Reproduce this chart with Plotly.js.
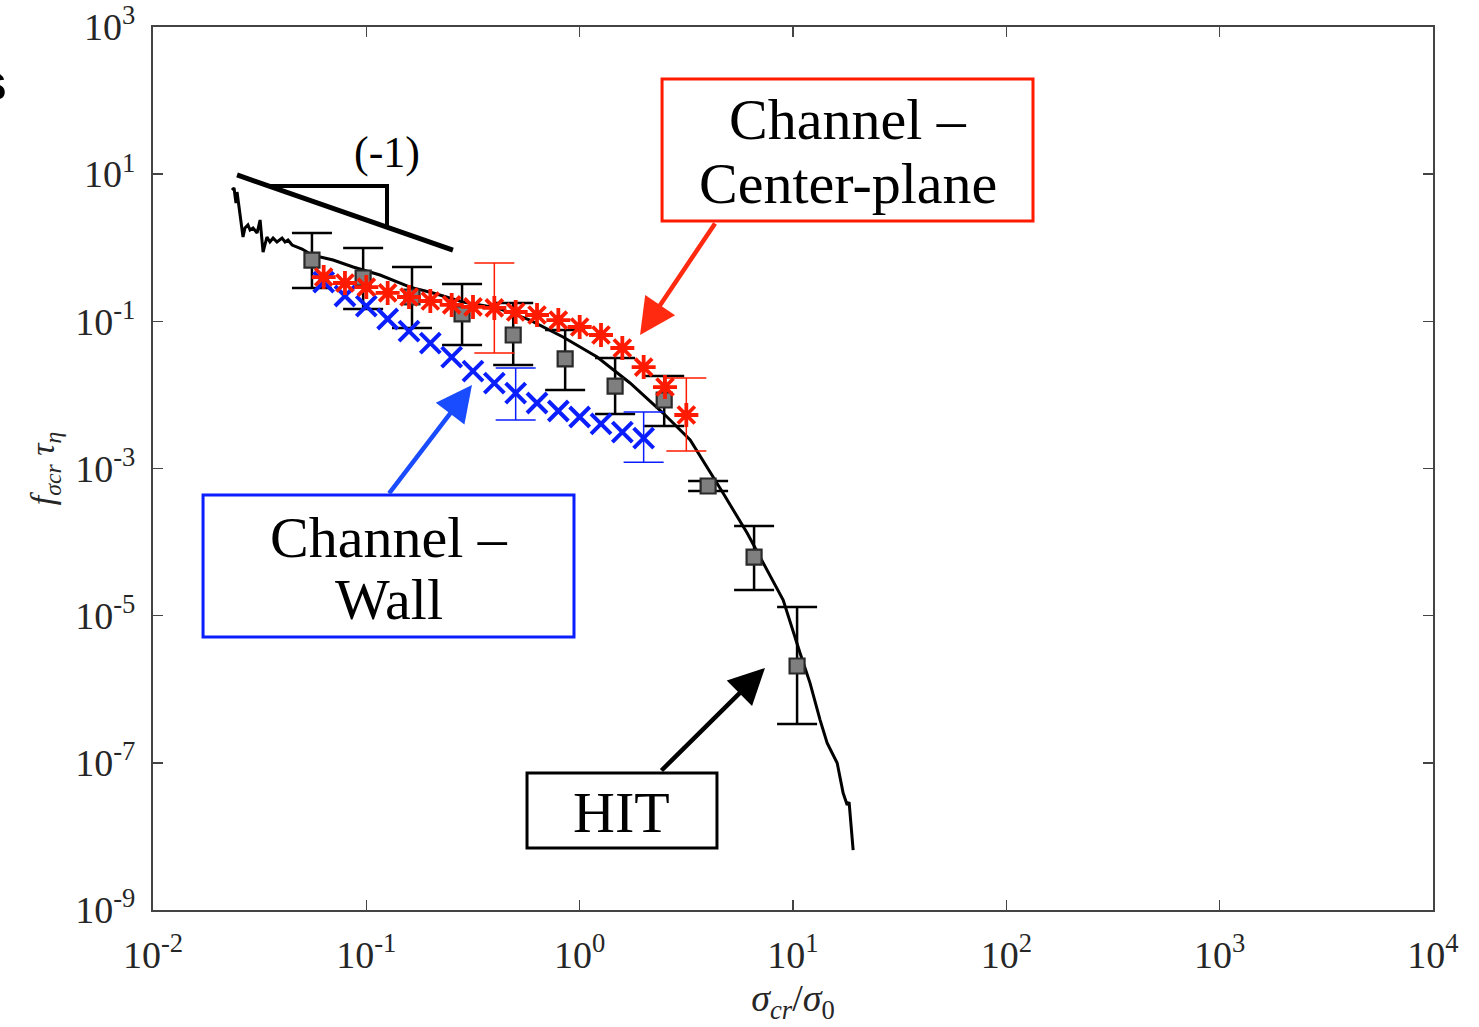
<!DOCTYPE html>
<html>
<head>
<meta charset="utf-8">
<script src="https://cdn.plot.ly/plotly-3.0.1.min.js"></script>
<style>html,body{margin:0;padding:0;background:#fff;}#plot{width:1479px;height:1027px;}</style>
</head>
<body>
<div id="plot"></div>
<script>
// ---------- data ----------
// HIT (black solid line)
var hitLineX = [0.02344,0.02399,0.02421,0.02449,0.02477,0.02559,0.02642,0.02698,0.02786,0.02851,0.02944,0.03076,0.03177,0.03281,0.03420,0.03532,0.03656,0.03811,0.04027,0.04159,0.04295,0.04487,0.04732,0.05000,0.05272,0.05559,0.06982,0.08670,0.1159,0.1603,0.2056,0.2838,0.4102,0.5848,0.8356,1.208,1.722,2.460,3.296,3.954,4.699,6.095,7.244,8.995,10.79,12.02,13.40,14.45,16.11,17.18,17.95,18.32,19.14];
var hitLineY = [6.095,6.486,5.212,4.055,5.715,2.786,1.400,1.854,2.037,1.742,1.854,1.585,2.382,0.875,1.400,1.197,1.355,1.197,1.355,1.197,1.274,1.089,1.023,0.962,0.875,0.796,0.681,0.547,0.426,0.292,0.243,0.183,0.152,0.104,0.0612,0.0327,0.01452,5.675e-3,2.438e-3,1.047e-3,4.645e-4,1.327e-4,5.19e-5,1.629e-5,3.105e-6,1.213e-6,3.81e-7,1.858e-7,9.93e-8,3.88e-8,2.67e-8,2.93e-8,6.53e-9];

// HIT binned points (grey squares) with error bars
var hitX    = [0.0556,0.0966,0.1637,0.281,0.488,0.855,1.466,2.49,4.0,6.57,10.45];
var hitY    = [0.681,0.388,0.214,0.126,0.0652,0.0308,0.0132,0.00853,5.78e-4,6.26e-5,2.07e-6];
var hitHigh = [1.585,0.991,0.547,0.321,0.177,0.0762,0.0317,0.0181,6.76e-4,1.65e-4,1.31e-5];
var hitLow  = [0.284,0.147,0.0811,0.0477,0.0255,0.01167,0.0055,0.00378,4.94e-4,2.23e-5,3.37e-7];

// Channel - Center-plane (red asterisks)
var centerX = [0.0631,0.0794,0.1,0.1259,0.1585,0.1995,0.2512,0.3162,0.3981,0.5012,0.631,0.7943,1.0,1.259,1.585,1.995,2.512,3.162];
var centerY = [0.400,0.332,0.292,0.243,0.214,0.189,0.167,0.157,0.152,0.134,0.122,0.104,0.0837,0.0652,0.0434,0.0239,0.0128,0.00533];
var centerErrIdx  = [8, 17];
var centerErrHigh = [0.621, 0.0170];
var centerErrLow  = [0.0371, 0.00173];

// Channel - Wall (blue crosses)
var wallX = [0.0631,0.0794,0.1,0.1259,0.1585,0.1995,0.2512,0.3162,0.3981,0.5012,0.631,0.7943,1.0,1.259,1.585,1.995];
var wallY = [0.342,0.221,0.161,0.1076,0.0738,0.0507,0.0327,0.0211,0.0145,0.0106,0.00776,0.00604,0.00501,0.00403,0.00313,0.00259];
var wallErrIdx  = [9, 15];
var wallErrHigh = [0.0232, 0.00586];
var wallErrLow  = [0.00456, 0.00122];

// slope (-1) guide
var slopeX = [0.02477, 0.2547];
var slopeY = [9.75, 0.931];
var triX = [0.0346, 0.1250, 0.1250];
var triY = [6.90, 6.90, 1.914];

// ticks
var xTickVals = [1e-2,1e-1,1e0,1e1,1e2,1e3,1e4];
var xTickText = ['10<sup>-2</sup>','10<sup>-1</sup>','10<sup>0</sup>','10<sup>1</sup>','10<sup>2</sup>','10<sup>3</sup>','10<sup>4</sup>'];
var yTickVals = [1e-9,1e-7,1e-5,1e-3,1e-1,1e1,1e3];
var yTickText = ['10<sup>-9</sup>','10<sup>-7</sup>','10<sup>-5</sup>','10<sup>-3</sup>','10<sup>-1</sup>','10<sup>1</sup>','10<sup>3</sup>'];

// ---------- build ----------
function pick(arr, idx){ return idx.map(function(i){ return arr[i]; }); }
function diff(a, b){ return a.map(function(v,i){ return v - b[i]; }); }

var cEX = pick(centerX, centerErrIdx), cEY = pick(centerY, centerErrIdx);
var wEX = pick(wallX, wallErrIdx), wEY = pick(wallY, wallErrIdx);

var serif = 'Liberation Serif, Times New Roman, serif';
var RED = '#ff1a00', BLUE = '#0a1eff';

var traces = [
  {x: slopeX, y: slopeY, mode:'lines', line:{color:'#000', width:5}, hoverinfo:'skip'},
  {x: triX, y: triY, mode:'lines', line:{color:'#000', width:4}, hoverinfo:'skip'},
  {x: hitLineX, y: hitLineY, mode:'lines', line:{color:'#000', width:3}},
  {x: hitX, y: hitY, mode:'markers',
   marker:{symbol:'square', size:15, color:'#7f7f7f', line:{color:'#2a2a2a', width:2.2}},
   error_y:{type:'data', symmetric:false, array: diff(hitHigh, hitY), arrayminus: diff(hitY, hitLow),
            color:'#000', thickness:2.5, width:20}},
  {x: wallX, y: wallY, mode:'markers',
   marker:{symbol:'x-thin-open', size:20, color:BLUE, line:{color:BLUE, width:4}}},
  {x: wEX, y: wEY, mode:'markers', marker:{size:1, opacity:0},
   error_y:{type:'data', symmetric:false, array: diff(wallErrHigh, wEY), arrayminus: diff(wEY, wallErrLow),
            color:BLUE, thickness:1.5, width:20}},
  {x: centerX, y: centerY, mode:'markers',
   marker:{symbol:'asterisk-open', size:20, color:RED, line:{color:RED, width:3.8}}},
  {x: cEX, y: cEY, mode:'markers', marker:{size:1, opacity:0},
   error_y:{type:'data', symmetric:false, array: diff(centerErrHigh, cEY), arrayminus: diff(cEY, centerErrLow),
            color:RED, thickness:1.5, width:20}}
];

var boxFont = {family: serif, size: 58, color:'#000'};
function label(x, y, t){
  return {xref:'paper', yref:'paper', x:x, y:y, xanchor:'center', yanchor:'middle',
          text:t, showarrow:false, font:boxFont};
}
function box(x0, x1, y0, y1, c){
  return {type:'rect', xref:'paper', yref:'paper', x0:x0, x1:x1, y0:y0, y1:y1,
          line:{color:c, width:3}, fillcolor:'rgba(255,255,255,0)', layer:'above'};
}

var layout = {
  width:1479, height:1027,
  margin:{l:153, r:46, t:27, b:117, pad:0},
  paper_bgcolor:'#fff', plot_bgcolor:'#fff',
  showlegend:false,
  font:{family: serif, color:'#262626'},
  xaxis:{type:'log', range:[-2,4], tickvals:xTickVals, ticktext:xTickText,
         ticks:'inside', ticklen:10, tickwidth:1.5, tickcolor:'#444',
         showline:true, linecolor:'#444', linewidth:2, mirror:'allticks',
         showgrid:false, zeroline:false, ticklabelstandoff:10,
         tickfont:{family: serif, size:38, color:'#262626'},
         title:{text:'<i>σ</i><sub><i>cr</i></sub>/<i>σ</i><sub>0</sub>', font:{family: serif, size:38, color:'#262626'}, standoff:10}},
  yaxis:{type:'log', range:[-9,3], tickvals:yTickVals, ticktext:yTickText,
         ticks:'inside', ticklen:10, tickwidth:1.5, tickcolor:'#444',
         showline:true, linecolor:'#444', linewidth:2, mirror:'allticks',
         showgrid:false, zeroline:false, ticklabelstandoff:8,
         tickfont:{family: serif, size:38, color:'#262626'},
         title:{text:'<i>f</i><sub><i>σ</i><i>cr</i></sub> <i>τ</i><sub><i>η</i></sub>', font:{family: serif, size:34, color:'#262626'}, standoff:10}},
  shapes:[
    box(0.3977, 0.6875, 0.7803, 0.9411, RED),
    box(0.0391, 0.3289, 0.3092, 0.4700, BLUE),
    box(0.2922, 0.4406, 0.0702, 0.1552, '#000')
  ],
  annotations:[
    label(0.5426, 0.8947, 'Channel –'),
    label(0.5426, 0.8233, 'Center-plane'),
    label(0.1840, 0.4224, 'Channel –'),
    label(0.1840, 0.3511, 'Wall'),
    label(0.3664, 0.1099, 'HIT'),
    {xref:'paper', yref:'paper', x:0.3805, y:0.6512, text:'', showarrow:true,
     ax:76, ay:-113, arrowcolor:'#ff2a10', arrowwidth:4.5, arrowhead:2, arrowsize:1.6},
    {xref:'paper', yref:'paper', x:0.2492, y:0.5946, text:'', showarrow:true,
     ax:-84, ay:110, arrowcolor:'#1a4cff', arrowwidth:4.5, arrowhead:2, arrowsize:1.6},
    {xref:'paper', yref:'paper', x:0.4781, y:0.2741, text:'', showarrow:true,
     ax:-105, ay:104, arrowcolor:'#000', arrowwidth:4.5, arrowhead:2, arrowsize:1.6},
    {xref:'paper', yref:'paper', x:0.1828, y:0.8584, xanchor:'center', yanchor:'middle',
     text:'(-1)', showarrow:false, font:{family: serif, size:44, color:'#000'}},
    {xref:'paper', yref:'paper', x:-0.1125, y:0.9377, xanchor:'right', yanchor:'middle',
     text:'<b>s</b>', showarrow:false, font:{family:'Liberation Sans, Arial, sans-serif', size:52, color:'#000'}}
  ]
};

Plotly.newPlot('plot', traces, layout, {displayModeBar:false, staticPlot:true});
</script>
</body>
</html>
